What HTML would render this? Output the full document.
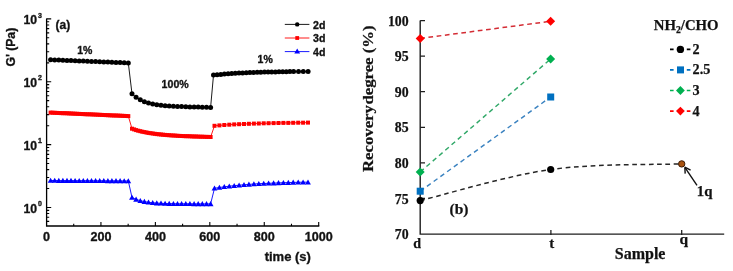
<!DOCTYPE html>
<html><head><meta charset="utf-8"><style>
html,body{margin:0;padding:0;background:#fff;}
body{width:733px;height:271px;overflow:hidden;}
svg{display:block;filter:blur(0.3px);}
text{fill:#111;}
</style></head><body>
<svg width="733" height="271" viewBox="0 0 733 271">
<path d="M46.6,18.4 V226.0 H319.3" fill="none" stroke="#000" stroke-width="1.3"/>
<path d="M46.6,207.45h4.6 M46.6,144.60h4.6 M46.6,81.75h4.6 M46.6,18.90h4.6 M46.6,221.39h2.6 M46.6,217.19h2.6 M46.6,213.54h2.6 M46.6,210.33h2.6 M46.6,188.53h2.6 M46.6,177.46h2.6 M46.6,169.61h2.6 M46.6,163.52h2.6 M46.6,158.54h2.6 M46.6,154.34h2.6 M46.6,150.69h2.6 M46.6,147.48h2.6 M46.6,125.68h2.6 M46.6,114.61h2.6 M46.6,106.76h2.6 M46.6,100.67h2.6 M46.6,95.69h2.6 M46.6,91.49h2.6 M46.6,87.84h2.6 M46.6,84.63h2.6 M46.6,62.83h2.6 M46.6,51.76h2.6 M46.6,43.91h2.6 M46.6,37.82h2.6 M46.6,32.84h2.6 M46.6,28.64h2.6 M46.6,24.99h2.6 M46.6,21.78h2.6 M73.72,226.0v-2.2 M100.94,226.0v-4.0 M128.16,226.0v-2.2 M155.38,226.0v-4.0 M182.60,226.0v-2.2 M209.82,226.0v-4.0 M237.04,226.0v-2.2 M264.26,226.0v-4.0 M291.48,226.0v-2.2 M318.70,226.0v-4.0" stroke="#000" stroke-width="1.1" fill="none"/>
<text x="37" y="24.0" font-family="'Liberation Sans', sans-serif" font-weight="bold" stroke="#1a1a1a" stroke-width="0.35" font-size="12.2" text-anchor="end">10</text>
<text x="37.9" y="17.5" font-family="'Liberation Sans', sans-serif" font-weight="bold" stroke="#1a1a1a" stroke-width="0.35" font-size="7.0">3</text>
<text x="37" y="86.8" font-family="'Liberation Sans', sans-serif" font-weight="bold" stroke="#1a1a1a" stroke-width="0.35" font-size="12.2" text-anchor="end">10</text>
<text x="37.9" y="80.3" font-family="'Liberation Sans', sans-serif" font-weight="bold" stroke="#1a1a1a" stroke-width="0.35" font-size="7.0">2</text>
<text x="37" y="149.7" font-family="'Liberation Sans', sans-serif" font-weight="bold" stroke="#1a1a1a" stroke-width="0.35" font-size="12.2" text-anchor="end">10</text>
<text x="37.9" y="143.2" font-family="'Liberation Sans', sans-serif" font-weight="bold" stroke="#1a1a1a" stroke-width="0.35" font-size="7.0">1</text>
<text x="37" y="212.6" font-family="'Liberation Sans', sans-serif" font-weight="bold" stroke="#1a1a1a" stroke-width="0.35" font-size="12.2" text-anchor="end">10</text>
<text x="37.9" y="206.1" font-family="'Liberation Sans', sans-serif" font-weight="bold" stroke="#1a1a1a" stroke-width="0.35" font-size="7.0">0</text>
<text x="46.5" y="241.3" font-family="'Liberation Sans', sans-serif" font-weight="bold" stroke="#1a1a1a" stroke-width="0.35" font-size="12.6" text-anchor="middle">0</text>
<text x="100.9" y="241.3" font-family="'Liberation Sans', sans-serif" font-weight="bold" stroke="#1a1a1a" stroke-width="0.35" font-size="12.6" text-anchor="middle">200</text>
<text x="155.4" y="241.3" font-family="'Liberation Sans', sans-serif" font-weight="bold" stroke="#1a1a1a" stroke-width="0.35" font-size="12.6" text-anchor="middle">400</text>
<text x="209.8" y="241.3" font-family="'Liberation Sans', sans-serif" font-weight="bold" stroke="#1a1a1a" stroke-width="0.35" font-size="12.6" text-anchor="middle">600</text>
<text x="264.3" y="241.3" font-family="'Liberation Sans', sans-serif" font-weight="bold" stroke="#1a1a1a" stroke-width="0.35" font-size="12.6" text-anchor="middle">800</text>
<text x="318.7" y="241.3" font-family="'Liberation Sans', sans-serif" font-weight="bold" stroke="#1a1a1a" stroke-width="0.35" font-size="12.6" text-anchor="middle">1000</text>
<text x="287.8" y="260.8" font-family="'Liberation Sans', sans-serif" font-weight="bold" stroke="#1a1a1a" stroke-width="0.35" font-size="13" text-anchor="middle">time (s)</text>
<text transform="translate(14.6,47.2) rotate(-90)" font-family="'Liberation Sans', sans-serif" font-weight="bold" stroke="#1a1a1a" stroke-width="0.35" font-size="12.2" text-anchor="middle">G' (Pa)</text>
<text x="55.6" y="29.4" font-family="'Liberation Sans', sans-serif" font-weight="bold" stroke="#1a1a1a" stroke-width="0.35" font-size="12">(a)</text>
<text x="77.2" y="53.8" font-family="'Liberation Sans', sans-serif" font-weight="bold" stroke="#1a1a1a" stroke-width="0.35" font-size="10.5">1%</text>
<text x="161.6" y="88.4" font-family="'Liberation Sans', sans-serif" font-weight="bold" stroke="#1a1a1a" stroke-width="0.35" font-size="10.6">100%</text>
<text x="257.6" y="62.8" font-family="'Liberation Sans', sans-serif" font-weight="bold" stroke="#1a1a1a" stroke-width="0.35" font-size="10.5">1%</text>
<path d="M50.6,59.8 L54.7,60.0 L58.8,60.1 L62.9,60.3 L67.0,60.5 L71.0,60.6 L75.1,60.8 L79.2,60.9 L83.3,61.1 L87.4,61.3 L91.5,61.4 L95.6,61.6 L99.7,61.8 L103.8,61.9 L107.9,62.1 L111.9,62.2 L116.0,62.4 L120.1,62.6 L124.2,62.7 L128.3,62.9 L132.0,93.8 L136.1,97.3 L140.3,99.8 L144.4,101.7 L148.5,103.0 L152.7,104.0 L156.8,104.7 L161.0,105.2 L165.1,105.7 L169.2,106.0 L173.4,106.2 L177.5,106.4 L181.6,106.6 L185.8,106.7 L189.9,106.9 L194.1,107.0 L198.2,107.1 L202.3,107.2 L206.5,107.3 L210.6,107.4 L213.5,75.1 L217.1,74.7 L220.8,74.4 L224.4,74.1 L228.1,73.8 L231.7,73.5 L235.3,73.3 L239.0,73.1 L242.6,72.9 L246.3,72.7 L249.9,72.6 L253.5,72.4 L257.2,72.3 L260.8,72.2 L264.5,72.1 L268.1,72.0 L271.7,71.9 L275.4,71.9 L279.0,71.8 L282.7,71.7 L286.3,71.7 L289.9,71.6 L293.6,71.6 L298.5,71.5 L303.3,71.5 L308.1,71.5" fill="none" stroke="#000" stroke-width="0.9"/>
<g fill="#000"><circle cx="50.6" cy="59.8" r="2.5"/><circle cx="54.7" cy="60.0" r="2.5"/><circle cx="58.8" cy="60.1" r="2.5"/><circle cx="62.9" cy="60.3" r="2.5"/><circle cx="67.0" cy="60.5" r="2.5"/><circle cx="71.0" cy="60.6" r="2.5"/><circle cx="75.1" cy="60.8" r="2.5"/><circle cx="79.2" cy="60.9" r="2.5"/><circle cx="83.3" cy="61.1" r="2.5"/><circle cx="87.4" cy="61.3" r="2.5"/><circle cx="91.5" cy="61.4" r="2.5"/><circle cx="95.6" cy="61.6" r="2.5"/><circle cx="99.7" cy="61.8" r="2.5"/><circle cx="103.8" cy="61.9" r="2.5"/><circle cx="107.9" cy="62.1" r="2.5"/><circle cx="111.9" cy="62.2" r="2.5"/><circle cx="116.0" cy="62.4" r="2.5"/><circle cx="120.1" cy="62.6" r="2.5"/><circle cx="124.2" cy="62.7" r="2.5"/><circle cx="128.3" cy="62.9" r="2.5"/><circle cx="132.0" cy="93.8" r="2.5"/><circle cx="136.1" cy="97.3" r="2.5"/><circle cx="140.3" cy="99.8" r="2.5"/><circle cx="144.4" cy="101.7" r="2.5"/><circle cx="148.5" cy="103.0" r="2.5"/><circle cx="152.7" cy="104.0" r="2.5"/><circle cx="156.8" cy="104.7" r="2.5"/><circle cx="161.0" cy="105.2" r="2.5"/><circle cx="165.1" cy="105.7" r="2.5"/><circle cx="169.2" cy="106.0" r="2.5"/><circle cx="173.4" cy="106.2" r="2.5"/><circle cx="177.5" cy="106.4" r="2.5"/><circle cx="181.6" cy="106.6" r="2.5"/><circle cx="185.8" cy="106.7" r="2.5"/><circle cx="189.9" cy="106.9" r="2.5"/><circle cx="194.1" cy="107.0" r="2.5"/><circle cx="198.2" cy="107.1" r="2.5"/><circle cx="202.3" cy="107.2" r="2.5"/><circle cx="206.5" cy="107.3" r="2.5"/><circle cx="210.6" cy="107.4" r="2.5"/><circle cx="213.5" cy="75.1" r="2.5"/><circle cx="217.1" cy="74.7" r="2.5"/><circle cx="220.8" cy="74.4" r="2.5"/><circle cx="224.4" cy="74.1" r="2.5"/><circle cx="228.1" cy="73.8" r="2.5"/><circle cx="231.7" cy="73.5" r="2.5"/><circle cx="235.3" cy="73.3" r="2.5"/><circle cx="239.0" cy="73.1" r="2.5"/><circle cx="242.6" cy="72.9" r="2.5"/><circle cx="246.3" cy="72.7" r="2.5"/><circle cx="249.9" cy="72.6" r="2.5"/><circle cx="253.5" cy="72.4" r="2.5"/><circle cx="257.2" cy="72.3" r="2.5"/><circle cx="260.8" cy="72.2" r="2.5"/><circle cx="264.5" cy="72.1" r="2.5"/><circle cx="268.1" cy="72.0" r="2.5"/><circle cx="271.7" cy="71.9" r="2.5"/><circle cx="275.4" cy="71.9" r="2.5"/><circle cx="279.0" cy="71.8" r="2.5"/><circle cx="282.7" cy="71.7" r="2.5"/><circle cx="286.3" cy="71.7" r="2.5"/><circle cx="289.9" cy="71.6" r="2.5"/><circle cx="293.6" cy="71.6" r="2.5"/><circle cx="298.5" cy="71.5" r="2.5"/><circle cx="303.3" cy="71.5" r="2.5"/><circle cx="308.1" cy="71.5" r="2.5"/></g>
<path d="M50.6,112.6 L52.6,112.7 L54.7,112.8 L56.7,112.9 L58.8,113.0 L60.8,113.1 L62.9,113.2 L64.9,113.2 L67.0,113.3 L69.0,113.4 L71.0,113.5 L73.1,113.6 L75.1,113.7 L77.2,113.8 L79.2,113.9 L81.3,114.0 L83.3,114.1 L85.4,114.2 L87.4,114.3 L89.5,114.3 L91.5,114.4 L93.5,114.5 L95.6,114.6 L97.6,114.7 L99.7,114.8 L101.7,114.9 L103.8,115.0 L105.8,115.1 L107.9,115.2 L109.9,115.3 L111.9,115.4 L114.0,115.5 L116.0,115.5 L118.1,115.6 L120.1,115.7 L122.2,115.8 L124.2,115.9 L126.3,116.0 L128.3,116.1 L132.0,128.7 L134.1,129.4 L136.1,130.1 L138.2,130.7 L140.3,131.2 L142.3,131.7 L144.4,132.1 L146.5,132.5 L148.5,132.9 L150.6,133.2 L152.7,133.5 L154.8,133.8 L156.8,134.1 L158.9,134.3 L161.0,134.5 L163.0,134.7 L165.1,134.9 L167.2,135.1 L169.2,135.2 L171.3,135.4 L173.4,135.5 L175.4,135.6 L177.5,135.8 L179.6,135.9 L181.6,136.0 L183.7,136.1 L185.8,136.2 L187.8,136.2 L189.9,136.3 L192.0,136.4 L194.1,136.5 L196.1,136.5 L198.2,136.6 L200.3,136.7 L202.3,136.7 L204.4,136.8 L206.5,136.9 L208.5,136.9 L210.6,137.0 L214.5,125.8 L219.4,125.4 L224.3,125.0 L229.3,124.7 L234.2,124.4 L239.1,124.2 L244.0,124.0 L248.9,123.8 L253.9,123.6 L258.8,123.5 L263.7,123.3 L268.6,123.2 L273.6,123.1 L278.5,123.0 L283.4,122.9 L288.3,122.9 L293.2,122.8 L298.2,122.7 L303.1,122.7 L308.0,122.6" fill="none" stroke="#f00" stroke-width="0.9"/>
<g fill="#f00"><rect x="48.6" y="110.6" width="4" height="4"/><rect x="50.6" y="110.7" width="4" height="4"/><rect x="52.7" y="110.8" width="4" height="4"/><rect x="54.7" y="110.9" width="4" height="4"/><rect x="56.8" y="111.0" width="4" height="4"/><rect x="58.8" y="111.1" width="4" height="4"/><rect x="60.9" y="111.2" width="4" height="4"/><rect x="62.9" y="111.2" width="4" height="4"/><rect x="65.0" y="111.3" width="4" height="4"/><rect x="67.0" y="111.4" width="4" height="4"/><rect x="69.0" y="111.5" width="4" height="4"/><rect x="71.1" y="111.6" width="4" height="4"/><rect x="73.1" y="111.7" width="4" height="4"/><rect x="75.2" y="111.8" width="4" height="4"/><rect x="77.2" y="111.9" width="4" height="4"/><rect x="79.3" y="112.0" width="4" height="4"/><rect x="81.3" y="112.1" width="4" height="4"/><rect x="83.4" y="112.2" width="4" height="4"/><rect x="85.4" y="112.3" width="4" height="4"/><rect x="87.5" y="112.3" width="4" height="4"/><rect x="89.5" y="112.4" width="4" height="4"/><rect x="91.5" y="112.5" width="4" height="4"/><rect x="93.6" y="112.6" width="4" height="4"/><rect x="95.6" y="112.7" width="4" height="4"/><rect x="97.7" y="112.8" width="4" height="4"/><rect x="99.7" y="112.9" width="4" height="4"/><rect x="101.8" y="113.0" width="4" height="4"/><rect x="103.8" y="113.1" width="4" height="4"/><rect x="105.9" y="113.2" width="4" height="4"/><rect x="107.9" y="113.3" width="4" height="4"/><rect x="109.9" y="113.4" width="4" height="4"/><rect x="112.0" y="113.5" width="4" height="4"/><rect x="114.0" y="113.5" width="4" height="4"/><rect x="116.1" y="113.6" width="4" height="4"/><rect x="118.1" y="113.7" width="4" height="4"/><rect x="120.2" y="113.8" width="4" height="4"/><rect x="122.2" y="113.9" width="4" height="4"/><rect x="124.3" y="114.0" width="4" height="4"/><rect x="126.3" y="114.1" width="4" height="4"/><rect x="130.0" y="126.7" width="4" height="4"/><rect x="132.1" y="127.4" width="4" height="4"/><rect x="134.1" y="128.1" width="4" height="4"/><rect x="136.2" y="128.7" width="4" height="4"/><rect x="138.3" y="129.2" width="4" height="4"/><rect x="140.3" y="129.7" width="4" height="4"/><rect x="142.4" y="130.1" width="4" height="4"/><rect x="144.5" y="130.5" width="4" height="4"/><rect x="146.5" y="130.9" width="4" height="4"/><rect x="148.6" y="131.2" width="4" height="4"/><rect x="150.7" y="131.5" width="4" height="4"/><rect x="152.8" y="131.8" width="4" height="4"/><rect x="154.8" y="132.1" width="4" height="4"/><rect x="156.9" y="132.3" width="4" height="4"/><rect x="159.0" y="132.5" width="4" height="4"/><rect x="161.0" y="132.7" width="4" height="4"/><rect x="163.1" y="132.9" width="4" height="4"/><rect x="165.2" y="133.1" width="4" height="4"/><rect x="167.2" y="133.2" width="4" height="4"/><rect x="169.3" y="133.4" width="4" height="4"/><rect x="171.4" y="133.5" width="4" height="4"/><rect x="173.4" y="133.6" width="4" height="4"/><rect x="175.5" y="133.8" width="4" height="4"/><rect x="177.6" y="133.9" width="4" height="4"/><rect x="179.6" y="134.0" width="4" height="4"/><rect x="181.7" y="134.1" width="4" height="4"/><rect x="183.8" y="134.2" width="4" height="4"/><rect x="185.8" y="134.2" width="4" height="4"/><rect x="187.9" y="134.3" width="4" height="4"/><rect x="190.0" y="134.4" width="4" height="4"/><rect x="192.1" y="134.5" width="4" height="4"/><rect x="194.1" y="134.5" width="4" height="4"/><rect x="196.2" y="134.6" width="4" height="4"/><rect x="198.3" y="134.7" width="4" height="4"/><rect x="200.3" y="134.7" width="4" height="4"/><rect x="202.4" y="134.8" width="4" height="4"/><rect x="204.5" y="134.9" width="4" height="4"/><rect x="206.5" y="134.9" width="4" height="4"/><rect x="208.6" y="135.0" width="4" height="4"/><rect x="212.5" y="123.8" width="4" height="4"/><rect x="217.4" y="123.4" width="4" height="4"/><rect x="222.3" y="123.0" width="4" height="4"/><rect x="227.3" y="122.7" width="4" height="4"/><rect x="232.2" y="122.4" width="4" height="4"/><rect x="237.1" y="122.2" width="4" height="4"/><rect x="242.0" y="122.0" width="4" height="4"/><rect x="246.9" y="121.8" width="4" height="4"/><rect x="251.9" y="121.6" width="4" height="4"/><rect x="256.8" y="121.5" width="4" height="4"/><rect x="261.7" y="121.3" width="4" height="4"/><rect x="266.6" y="121.2" width="4" height="4"/><rect x="271.6" y="121.1" width="4" height="4"/><rect x="276.5" y="121.0" width="4" height="4"/><rect x="281.4" y="120.9" width="4" height="4"/><rect x="286.3" y="120.9" width="4" height="4"/><rect x="291.2" y="120.8" width="4" height="4"/><rect x="296.2" y="120.7" width="4" height="4"/><rect x="301.1" y="120.7" width="4" height="4"/><rect x="306.0" y="120.6" width="4" height="4"/></g>
<path d="M50.6,180.5 L54.7,180.5 L58.8,180.6 L62.9,180.6 L67.0,180.6 L71.0,180.6 L75.1,180.7 L79.2,180.7 L83.3,180.7 L87.4,180.7 L91.5,180.8 L95.6,180.8 L99.7,180.8 L103.8,180.8 L107.9,180.9 L111.9,180.9 L116.0,180.9 L120.1,180.9 L124.2,181.0 L128.3,181.0 L132.0,197.5 L136.1,199.4 L140.3,200.7 L144.4,201.6 L148.5,202.3 L152.7,202.8 L156.8,203.1 L161.0,203.3 L165.1,203.5 L169.2,203.6 L173.4,203.7 L177.5,203.8 L181.6,203.8 L185.8,203.8 L189.9,203.8 L194.1,203.9 L198.2,203.9 L202.3,203.9 L206.5,203.9 L210.6,203.9 L214.5,188.3 L219.4,187.5 L224.3,186.8 L229.3,186.2 L234.2,185.7 L239.1,185.2 L244.0,184.8 L248.9,184.4 L253.9,184.0 L258.8,183.7 L263.7,183.5 L268.6,183.3 L273.6,183.1 L278.5,182.9 L283.4,182.7 L288.3,182.6 L293.2,182.4 L298.2,182.3 L303.1,182.2 L308.0,182.2" fill="none" stroke="#00f" stroke-width="0.9"/>
<g fill="#00f"><path d="M50.6,177.7 l2.9,5.1 h-5.8z"/><path d="M54.7,177.7 l2.9,5.1 h-5.8z"/><path d="M58.8,177.8 l2.9,5.1 h-5.8z"/><path d="M62.9,177.8 l2.9,5.1 h-5.8z"/><path d="M67.0,177.8 l2.9,5.1 h-5.8z"/><path d="M71.0,177.8 l2.9,5.1 h-5.8z"/><path d="M75.1,177.9 l2.9,5.1 h-5.8z"/><path d="M79.2,177.9 l2.9,5.1 h-5.8z"/><path d="M83.3,177.9 l2.9,5.1 h-5.8z"/><path d="M87.4,177.9 l2.9,5.1 h-5.8z"/><path d="M91.5,178.0 l2.9,5.1 h-5.8z"/><path d="M95.6,178.0 l2.9,5.1 h-5.8z"/><path d="M99.7,178.0 l2.9,5.1 h-5.8z"/><path d="M103.8,178.0 l2.9,5.1 h-5.8z"/><path d="M107.9,178.1 l2.9,5.1 h-5.8z"/><path d="M111.9,178.1 l2.9,5.1 h-5.8z"/><path d="M116.0,178.1 l2.9,5.1 h-5.8z"/><path d="M120.1,178.1 l2.9,5.1 h-5.8z"/><path d="M124.2,178.2 l2.9,5.1 h-5.8z"/><path d="M128.3,178.2 l2.9,5.1 h-5.8z"/><path d="M132.0,194.7 l2.9,5.1 h-5.8z"/><path d="M136.1,196.6 l2.9,5.1 h-5.8z"/><path d="M140.3,197.9 l2.9,5.1 h-5.8z"/><path d="M144.4,198.8 l2.9,5.1 h-5.8z"/><path d="M148.5,199.5 l2.9,5.1 h-5.8z"/><path d="M152.7,200.0 l2.9,5.1 h-5.8z"/><path d="M156.8,200.3 l2.9,5.1 h-5.8z"/><path d="M161.0,200.5 l2.9,5.1 h-5.8z"/><path d="M165.1,200.7 l2.9,5.1 h-5.8z"/><path d="M169.2,200.8 l2.9,5.1 h-5.8z"/><path d="M173.4,200.9 l2.9,5.1 h-5.8z"/><path d="M177.5,201.0 l2.9,5.1 h-5.8z"/><path d="M181.6,201.0 l2.9,5.1 h-5.8z"/><path d="M185.8,201.0 l2.9,5.1 h-5.8z"/><path d="M189.9,201.0 l2.9,5.1 h-5.8z"/><path d="M194.1,201.1 l2.9,5.1 h-5.8z"/><path d="M198.2,201.1 l2.9,5.1 h-5.8z"/><path d="M202.3,201.1 l2.9,5.1 h-5.8z"/><path d="M206.5,201.1 l2.9,5.1 h-5.8z"/><path d="M210.6,201.1 l2.9,5.1 h-5.8z"/><path d="M214.5,185.5 l2.9,5.1 h-5.8z"/><path d="M219.4,184.7 l2.9,5.1 h-5.8z"/><path d="M224.3,184.0 l2.9,5.1 h-5.8z"/><path d="M229.3,183.4 l2.9,5.1 h-5.8z"/><path d="M234.2,182.9 l2.9,5.1 h-5.8z"/><path d="M239.1,182.4 l2.9,5.1 h-5.8z"/><path d="M244.0,182.0 l2.9,5.1 h-5.8z"/><path d="M248.9,181.6 l2.9,5.1 h-5.8z"/><path d="M253.9,181.2 l2.9,5.1 h-5.8z"/><path d="M258.8,180.9 l2.9,5.1 h-5.8z"/><path d="M263.7,180.7 l2.9,5.1 h-5.8z"/><path d="M268.6,180.5 l2.9,5.1 h-5.8z"/><path d="M273.6,180.3 l2.9,5.1 h-5.8z"/><path d="M278.5,180.1 l2.9,5.1 h-5.8z"/><path d="M283.4,179.9 l2.9,5.1 h-5.8z"/><path d="M288.3,179.8 l2.9,5.1 h-5.8z"/><path d="M293.2,179.6 l2.9,5.1 h-5.8z"/><path d="M298.2,179.5 l2.9,5.1 h-5.8z"/><path d="M303.1,179.4 l2.9,5.1 h-5.8z"/><path d="M308.0,179.4 l2.9,5.1 h-5.8z"/></g>
<path d="M284.8,24.4H309.4" stroke="#000" stroke-width="0.9"/>
<circle cx="297.2" cy="24.4" r="2.2" fill="#000"/>
<text x="313" y="28.5" font-family="'Liberation Sans', sans-serif" font-weight="bold" stroke="#1a1a1a" stroke-width="0.35" font-size="10.6">2d</text>
<path d="M284.8,38.0H309.4" stroke="#f00" stroke-width="0.9"/>
<rect x="295.3" y="36.1" width="3.8" height="3.8" fill="#f00"/>
<text x="313" y="42.1" font-family="'Liberation Sans', sans-serif" font-weight="bold" stroke="#1a1a1a" stroke-width="0.35" font-size="10.6">3d</text>
<path d="M284.8,51.6H309.4" stroke="#00f" stroke-width="0.9"/>
<path d="M297.2,48.6 l2.9,5.0 h-5.8z" fill="#00f"/>
<text x="313" y="55.7" font-family="'Liberation Sans', sans-serif" font-weight="bold" stroke="#1a1a1a" stroke-width="0.35" font-size="10.6">4d</text>
<path d="M420.2,20.6 V234.1 H724.2" fill="none" stroke="#1e1e1e" stroke-width="1.4"/>
<path d="M420.2,198.35h4.8 M420.2,162.80h4.8 M420.2,127.25h4.8 M420.2,91.70h4.8 M420.2,56.15h4.8 M420.2,20.60h4.8 M550.9,235.1v-5 M681.7,235.1v-5" stroke="#1e1e1e" stroke-width="1.25"/>
<text x="408.6" y="239.1" font-family="'Liberation Serif', serif" font-weight="bold" stroke="#1a1a1a" stroke-width="0.25" font-size="13.8" text-anchor="end">70</text>
<text x="408.6" y="203.5" font-family="'Liberation Serif', serif" font-weight="bold" stroke="#1a1a1a" stroke-width="0.25" font-size="13.8" text-anchor="end">75</text>
<text x="408.6" y="168.0" font-family="'Liberation Serif', serif" font-weight="bold" stroke="#1a1a1a" stroke-width="0.25" font-size="13.8" text-anchor="end">80</text>
<text x="408.6" y="132.4" font-family="'Liberation Serif', serif" font-weight="bold" stroke="#1a1a1a" stroke-width="0.25" font-size="13.8" text-anchor="end">85</text>
<text x="408.6" y="96.9" font-family="'Liberation Serif', serif" font-weight="bold" stroke="#1a1a1a" stroke-width="0.25" font-size="13.8" text-anchor="end">90</text>
<text x="408.6" y="61.4" font-family="'Liberation Serif', serif" font-weight="bold" stroke="#1a1a1a" stroke-width="0.25" font-size="13.8" text-anchor="end">95</text>
<text x="408.6" y="25.8" font-family="'Liberation Serif', serif" font-weight="bold" stroke="#1a1a1a" stroke-width="0.25" font-size="13.8" text-anchor="end">100</text>
<text x="417.2" y="248.2" font-family="'Liberation Serif', serif" font-weight="bold" stroke="#1a1a1a" stroke-width="0.25" font-size="14" text-anchor="middle">d</text>
<text x="551.8" y="247.6" font-family="'Liberation Serif', serif" font-weight="bold" stroke="#1a1a1a" stroke-width="0.25" font-size="15" text-anchor="middle">t</text>
<text x="683.8" y="244.1" font-family="'Liberation Serif', serif" font-weight="bold" stroke="#1a1a1a" stroke-width="0.25" font-size="15.5" text-anchor="middle">q</text>
<text x="640.1" y="259.2" font-family="'Liberation Serif', serif" font-weight="bold" stroke="#1a1a1a" stroke-width="0.25" font-size="16" text-anchor="middle">Sample</text>
<text transform="translate(373.4,98.7) rotate(-90) scale(1.178,1)" font-family="'Liberation Serif', serif" font-weight="bold" stroke="#1a1a1a" stroke-width="0.25" font-size="14.2" text-anchor="middle">Recovery<tspan dx="-3"> </tspan>degree (%)</text>
<text x="449.5" y="213.6" font-family="'Liberation Serif', serif" font-weight="bold" stroke="#1a1a1a" stroke-width="0.25" font-size="15.5">(b)</text>
<path d="M420.2,38.4 L550.6,21.3" stroke="#d42c34" stroke-width="1.5" stroke-dasharray="4.7 3.6" fill="none"/>
<path d="M420.2,172.0 L550.6,59.0" stroke="#30a868" stroke-width="1.45" stroke-dasharray="4.7 3.6" fill="none"/>
<path d="M420.2,191.2 L550.6,97.0" stroke="#3a82c0" stroke-width="1.45" stroke-dasharray="4.7 3.6" fill="none"/>
<path d="M420.2,200.6 C441.9,195.4 507.1,175.6 550.7,169.5 C594.3,163.4 659.9,164.8 681.7,163.9" stroke="#262626" stroke-width="1.5" stroke-dasharray="4.7 3.6" fill="none"/>
<path d="M420.2,33.9 l4.5,4.5 l-4.5,4.5 l-4.5,-4.5z" fill="#ff0000"/>
<path d="M550.6,16.8 l4.5,4.5 l-4.5,4.5 l-4.5,-4.5z" fill="#ff0000"/>
<path d="M420.2,167.5 l4.5,4.5 l-4.5,4.5 l-4.5,-4.5z" fill="#00b050"/>
<path d="M550.6,54.5 l4.5,4.5 l-4.5,4.5 l-4.5,-4.5z" fill="#00b050"/>
<rect x="416.7" y="187.7" width="7" height="7" fill="#0070c0"/>
<rect x="547.2" y="93.5" width="7" height="7" fill="#0070c0"/>
<circle cx="420.2" cy="200.6" r="3.6" fill="#000"/>
<circle cx="550.7" cy="169.5" r="3.6" fill="#000"/>
<circle cx="681.7" cy="163.9" r="3.2" fill="#a8520f" stroke="#3a1a05" stroke-width="1"/>
<path d="M697,185.3 L685.2,167.8" stroke="#111" stroke-width="1.4"/>
<path d="M684.8,167.2 L685.2,173.6 M684.8,167.2 L690.6,170.2" stroke="#111" stroke-width="1.4" fill="none"/>
<text x="696.8" y="195.8" font-family="'Liberation Serif', serif" font-weight="bold" stroke="#1a1a1a" stroke-width="0.25" font-size="14.8">1q</text>
<text x="653.8" y="30.3" font-family="'Liberation Serif', serif" font-weight="bold" stroke="#1a1a1a" stroke-width="0.25" font-size="14.8">NH<tspan font-size="9.6" dy="3">2</tspan><tspan dy="-3">/CHO</tspan></text>
<path d="M670,49.4h3.6 M686.8,49.4h3.6" stroke="#000" stroke-width="1.6"/>
<circle cx="680.4" cy="49.4" r="3.7" fill="#000"/>
<text x="692.6" y="53.9" font-family="'Liberation Serif', serif" font-weight="bold" stroke="#1a1a1a" stroke-width="0.25" font-size="14.2">2</text>
<path d="M670,69.9h3.6 M686.8,69.9h3.6" stroke="#0070c0" stroke-width="1.6"/>
<rect x="677" y="66.4" width="7" height="7" fill="#0070c0"/>
<text x="692.6" y="74.4" font-family="'Liberation Serif', serif" font-weight="bold" stroke="#1a1a1a" stroke-width="0.25" font-size="14.2">2.5</text>
<path d="M670,90.5h3.6 M686.8,90.5h3.6" stroke="#00b050" stroke-width="1.6"/>
<path d="M680.4,86.1 l4.4,4.4 l-4.4,4.4 l-4.4,-4.4z" fill="#00b050"/>
<text x="692.6" y="95.0" font-family="'Liberation Serif', serif" font-weight="bold" stroke="#1a1a1a" stroke-width="0.25" font-size="14.2">3</text>
<path d="M670,111.1h3.6 M686.8,111.1h3.6" stroke="#ff0000" stroke-width="1.6"/>
<path d="M680.4,106.7 l4.4,4.4 l-4.4,4.4 l-4.4,-4.4z" fill="#ff0000"/>
<text x="692.6" y="115.6" font-family="'Liberation Serif', serif" font-weight="bold" stroke="#1a1a1a" stroke-width="0.25" font-size="14.2">4</text>
</svg>
</body></html>
